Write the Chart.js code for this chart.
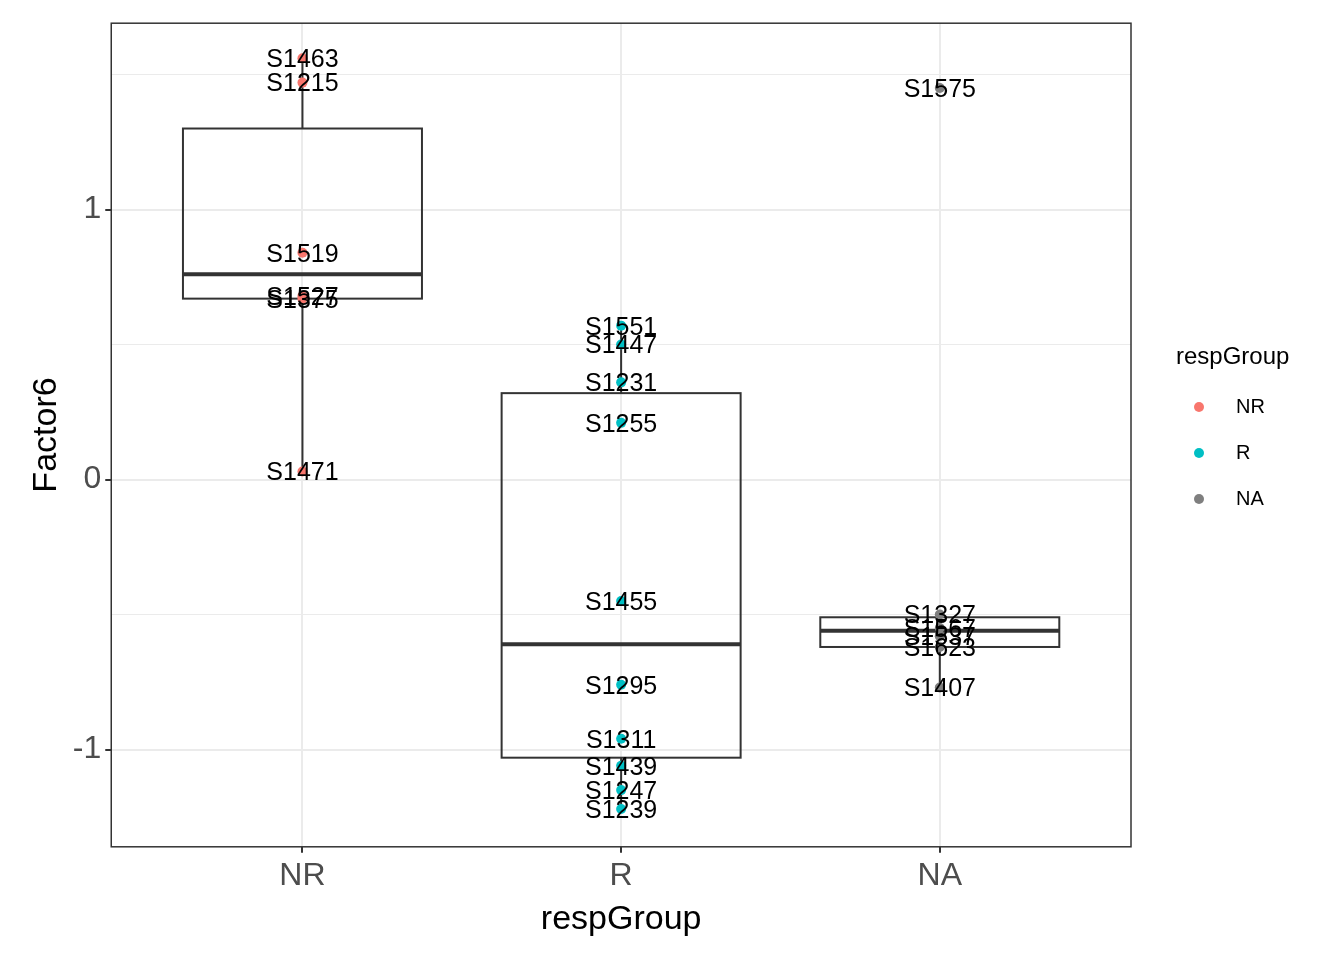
<!DOCTYPE html>
<html><head><meta charset="utf-8">
<script src="https://cdn.jsdelivr.net/npm/chart.js@4"></script>
<style>html,body{margin:0;background:#fff}#wrap{width:1344px;height:960px}</style>
</head><body><div id="wrap"><canvas id="c"></canvas></div>
<script>
// Data
const groups = ["NR", "R", "NA"];
const groupColors = ["#F8766D", "#00BFC4", "#7F7F7F"];
const nrNames = ["S1463", "S1215", "S1519", "S1527", "S1375", "S1471"];
const nrValues = [1.56, 1.47, 0.84, 0.68, 0.67, 0.03];
const rNames = ["S1551", "S1447", "S1231", "S1255", "S1455", "S1295", "S1311", "S1439", "S1247", "S1239"];
const rValues = [0.57, 0.50, 0.36, 0.21, -0.45, -0.76, -0.96, -1.06, -1.15, -1.22];
const naNames = ["S1575", "S1327", "S1567", "S1537", "S1623", "S1407"];
const naValues = [1.45, -0.50, -0.55, -0.58, -0.62, -0.77];
// box stats per group: [lowWhisker, q1, median, q3, highWhisker]
const boxStats = [
  [0.03, 0.67, 0.76, 1.30, 1.56],
  [-1.22, -1.03, -0.61, 0.32, 0.57],
  [-0.77, -0.62, -0.56, -0.51, -0.50]
];
const yTicks = [-1, 0, 1];

const series = [[nrNames, nrValues], [rNames, rValues], [naNames, naValues]];
const datasets = series.map((s, g) => ({
  label: groups[g],
  data: s[1].map((v, i) => ({ x: g, y: v, name: s[0][i] })),
  pointBackgroundColor: groupColors[g],
  pointBorderWidth: 0,
  pointRadius: 5,
  showLine: false
}));

const boxPlugin = {
  id: "boxes",
  beforeDatasetsDraw(chart) {
    const { ctx, scales: { x, y } } = chart;
    ctx.save();
    ctx.strokeStyle = "#333333";
    ctx.lineWidth = 2;
    boxStats.forEach((b, g) => {
      const l = x.getPixelForValue(g - 0.375), r = x.getPixelForValue(g + 0.375);
      const c = x.getPixelForValue(g);
      ctx.beginPath();
      ctx.moveTo(c, y.getPixelForValue(b[0])); ctx.lineTo(c, y.getPixelForValue(b[1]));
      ctx.moveTo(c, y.getPixelForValue(b[3])); ctx.lineTo(c, y.getPixelForValue(b[4]));
      ctx.stroke();
      ctx.strokeRect(l, y.getPixelForValue(b[3]), r - l, y.getPixelForValue(b[1]) - y.getPixelForValue(b[3]));
      ctx.lineWidth = 4;
      ctx.beginPath();
      ctx.moveTo(l, y.getPixelForValue(b[2])); ctx.lineTo(r, y.getPixelForValue(b[2]));
      ctx.stroke();
      ctx.lineWidth = 2;
    });
    ctx.restore();
  },
  afterDatasetsDraw(chart) {
    const { ctx, chartArea: a } = chart;
    ctx.save();
    ctx.fillStyle = "#000";
    ctx.font = "25px Liberation Sans, Arial, sans-serif";
    ctx.textAlign = "center";
    ctx.textBaseline = "middle";
    chart.data.datasets.forEach((ds, di) => {
      chart.getDatasetMeta(di).data.forEach((p, i) => {
        ctx.fillText(ds.data[i].name, p.x, p.y + 2);
      });
    });
    ctx.strokeStyle = "#333333";
    ctx.lineWidth = 1.5;
    ctx.strokeRect(a.left, a.top, a.right - a.left, a.bottom - a.top);
    // legend
    ctx.textAlign = "left";
    ctx.font = "24px Liberation Sans, Arial, sans-serif";
    ctx.fillText("respGroup", 1176, 357);
    ctx.font = "20px Liberation Sans, Arial, sans-serif";
    groups.forEach((g, i) => {
      const yy = 407 + i * 46;
      ctx.fillStyle = groupColors[i];
      ctx.beginPath(); ctx.arc(1199, yy, 5, 0, Math.PI * 2); ctx.fill();
      ctx.fillStyle = "#000";
      ctx.fillText(g, 1236, yy);
    });
    ctx.restore();
  }
};

new Chart(document.getElementById("c"), {
  type: "scatter",
  data: { datasets },
  plugins: [boxPlugin],
  options: {
    responsive: true,
    maintainAspectRatio: false,
    animation: false,
    devicePixelRatio: 1,
    layout: { padding: { top: 7, right: 213, bottom: 16, left: 22 } },
    plugins: { legend: { display: false }, tooltip: { enabled: false } },
    scales: {
      x: {
        type: "linear", min: -0.6, max: 2.6,
        afterBuildTicks(s) { s.ticks = groups.map((g, i) => ({ value: i })); },
        ticks: { callback: v => groups[v], color: "#4d4d4d", font: { size: 32, family: "Liberation Sans" }, padding: 4 },
        grid: { color: "#ebebeb", lineWidth: 2, drawTicks: true, tickColor: "#333", tickLength: 6 },
        border: { display: false },
        title: { display: true, text: "respGroup", color: "#000", font: { size: 34, family: "Liberation Sans" }, padding: { top: 0 } }
      },
      y: {
        min: -1.36, max: 1.69,
        afterBuildTicks(s) { s.ticks = [-1, -0.5, 0, 0.5, 1, 1.5].map(v => ({ value: v })); },
        ticks: { callback: v => yTicks.includes(v) ? String(v) : "", color: "#4d4d4d", font: { size: 32, family: "Liberation Sans" }, padding: 4 },
        grid: {
          color: "#ebebeb",
          lineWidth: c => yTicks.includes(c.tick.value) ? 2 : 1,
          tickColor: c => yTicks.includes(c.tick.value) ? "#333" : "rgba(0,0,0,0)",
          tickLength: 6
        },
        border: { display: false },
        title: { display: true, text: "Factor6", color: "#000", font: { size: 34, family: "Liberation Sans" }, padding: { bottom: 2 } }
      }
    }
  }
});
</script>
</body></html>
